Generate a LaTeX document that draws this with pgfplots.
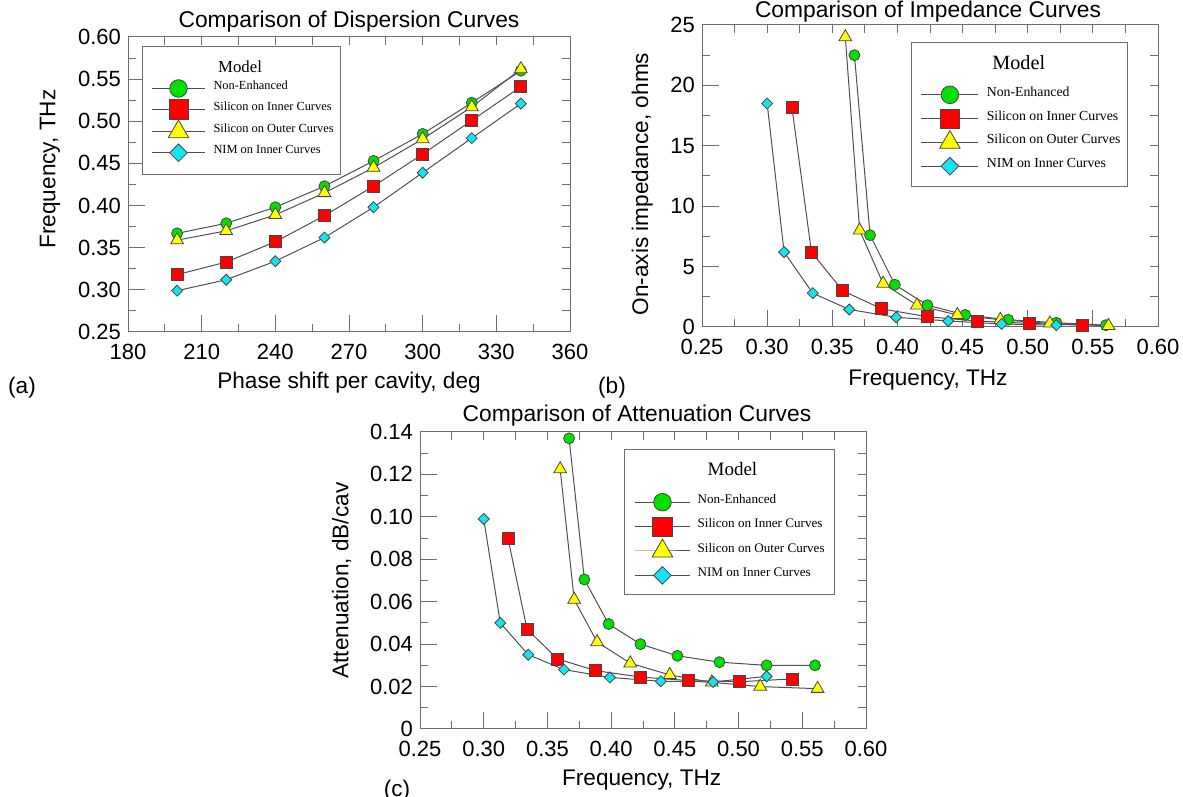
\documentclass[border=0pt]{standalone}
\usepackage{fontspec}
\setmainfont{Liberation Sans}
\newfontfamily\tms{Liberation Serif}
\usepackage{pgfplots}
\pgfplotsset{compat=1.18}
\definecolor{axgray}{RGB}{110,110,110}
\definecolor{lngray}{RGB}{80,80,80}
\definecolor{mkgray}{RGB}{70,70,70}
\definecolor{mygreen}{RGB}{0,225,0}
\definecolor{myred}{RGB}{255,0,0}
\definecolor{myyellow}{RGB}{255,255,0}
\definecolor{mycyan}{RGB}{20,228,240}
\def\legw{26.5pt}
\pgfplotsset{
  myaxis/.style={
    scale only axis, anchor=south west, enlargelimits=false, scaled ticks=false,
    axis line style={draw=axgray, line width=0.5pt},
    every tick/.style={draw=axgray, line width=0.5pt},
    tick align=inside, major tick length=8.5pt, minor tick length=4pt,
    xtick pos=bottom, ytick pos=left,
    tick label style={font=\fontsize{11}{13}\selectfont, /pgf/number format/assume math mode=true},
    xticklabel style={yshift=-2.5pt},
    label style={font=\fontsize{11.3}{13}\selectfont},
    every axis title shift=0pt,
    title style={font=\fontsize{11.4}{13}\selectfont, anchor=center},
    legend cell align=left,
    legend image code/.code={\draw[mark repeat=2,mark phase=2,##1,every mark/.append style={scale=1.6}] plot coordinates {(0pt,0pt) (\legw/2,0pt) (\legw,0pt)};},
  },
  frameax/.style={
    scale only axis, anchor=south west, enlargelimits=false,
    axis line style={draw=none},
    every tick/.style={draw=axgray, line width=0.5pt},
    tick align=inside, major tick length=4pt, minor tick length=4pt,
    xtick pos=top, ytick pos=right, xticklabels={}, yticklabels={},
  },
  gr/.style={draw=lngray, line width=0.5pt, mark=*, mark size=2.75pt, mark options={fill=mygreen, draw=mkgray, line width=0.4pt, solid}},
  rd/.style={draw=lngray, line width=0.5pt, mark=square*, mark size=3pt, mark options={fill=myred, draw=mkgray, line width=0.4pt, solid}},
  yl/.style={draw=lngray, line width=0.5pt, mark=triangle*, mark size=3.7pt, mark options={fill=myyellow, draw=mkgray, line width=0.4pt, solid}},
  cy/.style={draw=lngray, line width=0.5pt, mark=square*, mark size=1.95pt, mark options={rotate=45, fill=mycyan, draw=mkgray, line width=0.4pt, solid}},
}
\begin{document}
\begin{tikzpicture}
\useasboundingbox (0,0) rectangle (591.5pt,398.5pt);

% ---------------- (a) ----------------
\begin{axis}[frameax, at={(64pt,232.5pt)}, width=221pt, height=147.5pt,
  xmin=180, xmax=360, ymin=0.25, ymax=0.6,
  xtick={180,210,240,270,300,330,360}, ytick={0.25,0.3,0.35,0.4,0.45,0.5,0.55,0.6},
  minor x tick num=1, minor y tick num=1]
\end{axis}
\def\legw{26.5pt}
\begin{axis}[myaxis, at={(64pt,232.5pt)}, width=221pt, height=147.5pt,
  xmin=180, xmax=360, ymin=0.25, ymax=0.6,
  xtick={180,210,240,270,300,330,360}, ytick={0.25,0.3,0.35,0.4,0.45,0.5,0.55,0.6},
  minor x tick num=1, minor y tick num=1,
  yticklabel style={/pgf/number format/.cd, fixed, fixed zerofill, precision=2},
  title={Comparison of Dispersion Curves}, title style={at={(axis description cs:0.5,1.052)}},
  xlabel={Phase shift per cavity, deg}, xlabel style={at={(axis description cs:0.5,-0.1729)}, anchor=center},
  ylabel={Frequency, THz}, ylabel style={at={(axis description cs:-0.1765,0.5525)}, anchor=center},
  legend style={at={(0.0317,0.9695)}, anchor=north west, draw=axgray, line width=0.5pt, fill=white,
    inner xsep=4.5pt, inner ysep=5.75pt, row sep=0pt, column sep=4pt,
    nodes={inner sep=0pt, text depth=, font=\tms\fontsize{6.2}{7}\selectfont}},
]
\addlegendimage{empty legend}
\addlegendentry{\hspace*{2.3pt}\rule[-2.95pt]{0pt}{10pt}{\fontsize{8.4}{9}\selectfont Model}}
\addplot[gr] coordinates {(200,0.367)(220,0.379)(240,0.398)(260,0.423)(280,0.453)(300,0.485)(320,0.522)(340,0.560)};
\addlegendentry{\rule[-4.7pt]{0pt}{10.5pt}Non-Enhanced}
\addplot[rd] coordinates {(200,0.318)(220,0.333)(240,0.357)(260,0.388)(280,0.423)(300,0.461)(320,0.501)(340,0.541)};
\addlegendentry{\rule[-4.7pt]{0pt}{10.5pt}Silicon on Inner Curves}
\addplot[yl] coordinates {(200,0.359)(220,0.370)(240,0.389)(260,0.415)(280,0.445)(300,0.479)(320,0.517)(340,0.562)};
\addlegendentry{\rule[-4.7pt]{0pt}{10.5pt}Silicon on Outer Curves\hspace*{-2.5pt}}
\addplot[cy] coordinates {(200,0.299)(220,0.312)(240,0.334)(260,0.362)(280,0.398)(300,0.439)(320,0.480)(340,0.521)};
\addlegendentry{\rule[-4.7pt]{0pt}{10.5pt}NIM on Inner Curves}
\end{axis}

% ---------------- (b) ----------------
\begin{axis}[frameax, at={(351pt,235pt)}, width=228pt, height=151pt,
  xmin=0.25, xmax=0.6, ymin=0, ymax=25,
  xtick={0.25,0.3,0.35,0.4,0.45,0.5,0.55,0.6}, ytick={0,5,10,15,20,25},
  minor x tick num=1, minor y tick num=1]
\end{axis}
\def\legw{28.4pt}
\begin{axis}[myaxis, at={(351pt,235pt)}, width=228pt, height=151pt,
  xmin=0.25, xmax=0.6, ymin=0, ymax=25,
  xtick={0.25,0.3,0.35,0.4,0.45,0.5,0.55,0.6}, ytick={0,5,10,15,20,25},
  minor x tick num=1, minor y tick num=1,
  xticklabel style={/pgf/number format/.cd, fixed, fixed zerofill, precision=2},
  title={Comparison of Impedance Curves}, title style={at={(axis description cs:0.4956,1.043)}},
  xlabel={Frequency, THz}, xlabel style={at={(axis description cs:0.4956,-0.1755)}, anchor=center},
  ylabel={On-axis impedance, ohms}, ylabel style={at={(axis description cs:-0.131,0.4735)}, anchor=center},
  legend style={at={(0.4583,0.9447)}, anchor=north west, draw=axgray, line width=0.5pt, fill=white,
    inner xsep=4.75pt, inner ysep=4.2pt, row sep=0pt, column sep=4pt,
    nodes={inner sep=0pt, text depth=, font=\tms\fontsize{6.9}{8}\selectfont}},
]
\addlegendimage{empty legend}
\addlegendentry{\hspace*{2.8pt}\rule[-6.85pt]{0pt}{16.15pt}{\fontsize{10.1}{11}\selectfont Model}}
\addplot[gr] coordinates {(0.367,22.5)(0.379,7.6)(0.398,3.5)(0.423,1.8)(0.452,1.0)(0.485,0.6)(0.522,0.35)(0.560,0.15)};
\addlegendentry{\rule[-5.2pt]{0pt}{11.9pt}Non-Enhanced}
\addplot[rd] coordinates {(0.319,18.2)(0.334,6.2)(0.358,3.0)(0.388,1.5)(0.423,0.85)(0.461,0.5)(0.501,0.3)(0.542,0.15)};
\addlegendentry{\rule[-5.2pt]{0pt}{11.9pt}Silicon on Inner Curves}
\addplot[yl] coordinates {(0.360,24.0)(0.371,8.0)(0.389,3.6)(0.415,1.8)(0.446,1.0)(0.479,0.6)(0.517,0.3)(0.562,0.1)};
\addlegendentry{\rule[-5.2pt]{0pt}{11.9pt}Silicon on Outer Curves\hspace*{-3pt}}
\addplot[cy] coordinates {(0.300,18.5)(0.313,6.2)(0.335,2.8)(0.363,1.45)(0.399,0.8)(0.439,0.5)(0.480,0.25)(0.522,0.15)};
\addlegendentry{\rule[-5.2pt]{0pt}{11.9pt}NIM on Inner Curves}
\end{axis}

% ---------------- (c) ----------------
\begin{axis}[frameax, at={(210pt,34pt)}, width=223pt, height=148.5pt,
  xmin=0.25, xmax=0.6, ymin=0, ymax=0.14,
  xtick={0.25,0.3,0.35,0.4,0.45,0.5,0.55,0.6}, ytick={0,0.02,0.04,0.06,0.08,0.1,0.12,0.14},
  minor x tick num=1, minor y tick num=1]
\end{axis}
\def\legw{27.7pt}
\begin{axis}[myaxis, at={(210pt,34pt)}, width=223pt, height=148.5pt,
  xmin=0.25, xmax=0.6, ymin=0, ymax=0.14,
  xtick={0.25,0.3,0.35,0.4,0.45,0.5,0.55,0.6}, ytick={0,0.02,0.04,0.06,0.08,0.1,0.12,0.14},
  yticklabels={0,0.02,0.04,0.06,0.08,0.10,0.12,0.14},
  minor x tick num=1, minor y tick num=1,
  xticklabel style={/pgf/number format/.cd, fixed, fixed zerofill, precision=2},
  title={Comparison of Attenuation Curves}, title style={at={(axis description cs:0.4865,1.054)}},
  xlabel={Frequency, THz}, xlabel style={at={(axis description cs:0.497,-0.1717)}, anchor=center},
  ylabel={Attenuation, dB/cav}, ylabel style={at={(axis description cs:-0.1756,0.4997)}, anchor=center},
  legend style={at={(0.458,0.9418)}, anchor=north west, draw=axgray, line width=0.5pt, fill=white,
    inner xsep=4.75pt, inner ysep=3.4pt, row sep=0pt, column sep=3.5pt,
    nodes={inner sep=0pt, text depth=, font=\tms\fontsize{6.55}{7.5}\selectfont}},
]
\addlegendimage{empty legend}
\addlegendentry{\hspace*{5pt}\rule[-7.45pt]{0pt}{16.7pt}{\fontsize{9.5}{10.5}\selectfont Model}}
\addplot[gr] coordinates {(0.367,0.137)(0.379,0.0705)(0.398,0.0495)(0.423,0.040)(0.452,0.0345)(0.485,0.0315)(0.522,0.030)(0.560,0.030)};
\addlegendentry{\rule[-5.45pt]{0pt}{12.2pt}Non-Enhanced}
\addplot[rd] coordinates {(0.319,0.090)(0.334,0.047)(0.358,0.033)(0.388,0.0275)(0.423,0.0245)(0.461,0.0228)(0.501,0.0223)(0.542,0.0236)};
\addlegendentry{\rule[-5.45pt]{0pt}{12.2pt}Silicon on Inner Curves}
\addplot[yl] coordinates {(0.360,0.1225)(0.371,0.061)(0.389,0.041)(0.415,0.031)(0.446,0.0255)(0.479,0.022)(0.517,0.020)(0.562,0.019)};
\addlegendentry{\rule[-5.45pt]{0pt}{12.2pt}Silicon on Outer Curves}
\addplot[cy] coordinates {(0.300,0.099)(0.313,0.050)(0.335,0.035)(0.363,0.028)(0.399,0.0243)(0.439,0.0225)(0.480,0.0222)(0.522,0.0248)};
\addlegendentry{\rule[-5.45pt]{0pt}{12.2pt}NIM on Inner Curves}
\end{axis}

\node[font=\fontsize{11.3}{13}\selectfont] at (11pt,204.5pt) {(a)};
\node[font=\fontsize{11.3}{13}\selectfont] at (306pt,204.5pt) {(b)};
\node[font=\fontsize{11.3}{13}\selectfont] at (198.5pt,3pt) {(c)};
\end{tikzpicture}
\end{document}
